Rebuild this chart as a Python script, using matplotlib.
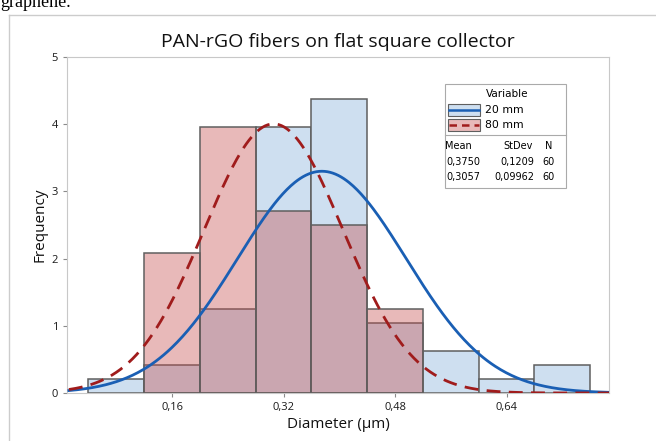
import numpy as np
import matplotlib
matplotlib.use('Agg')
import matplotlib.pyplot as plt
from matplotlib.patches import Rectangle
from matplotlib.lines import Line2D

# bin edges (µm) and counts
edges = [0.04, 0.12, 0.20, 0.28, 0.36, 0.44, 0.52, 0.60, 0.68, 0.76]
counts_20 = [1, 2, 6, 19, 21, 5, 3, 1, 2]
counts_80 = [0, 10, 19, 13, 12, 6, 0, 0, 0]

labels = ['20 mm', '80 mm']
means = [0.3750, 0.3057]
stdevs = [0.1209, 0.09962]
mean_txt = ['0,3750', '0,3057']
sd_txt = ['0,1209', '0,09962']
n_obs = [60, 60]

xticks = [0.16, 0.32, 0.48, 0.64]
xtick_labels = ['0,16', '0,32', '0,48', '0,64']
yticks = [0, 1, 2, 3, 4, 5]

blue_fill = '#cedff0'
blue_line = '#1a5fb4'
red_fill = (196/255, 77/255, 77/255, 0.39)
red_line = '#a01c1c'
edge_col = '#5f5f5f'

plt.rcParams['font.family'] = ['Open Sans', 'DejaVu Sans']

fig = plt.figure(figsize=(6.56, 4.41), dpi=100)
ax = fig.add_axes([67/656, 1-393/441, 542/656, 336/441])

width = edges[1] - edges[0]
left = np.array(edges[:-1])
dens20 = np.array(counts_20) / (n_obs[0] * width)
dens80 = np.array(counts_80) / (n_obs[1] * width)

ax.bar(left, dens20, width=width, align='edge', color=blue_fill,
       edgecolor=edge_col, linewidth=1.1, zorder=2)
m = dens80 > 0
ax.bar(left[m], dens80[m], width=width, align='edge', color=red_fill,
       edgecolor=edge_col, linewidth=1.1, zorder=3)

xs = np.linspace(0.012, 0.787, 400)
for mu, sd, col, ls in [(means[0], stdevs[0], blue_line, '-'),
                        (means[1], stdevs[1], red_line, (0, (5, 3)))]:
    pdf = np.exp(-0.5 * ((xs - mu) / sd) ** 2) / (sd * np.sqrt(2 * np.pi))
    ax.plot(xs, pdf, color=col, ls=ls, lw=2, zorder=4)

ax.set_xlim(0.0093, 0.787)
ax.set_ylim(0, 5)
ax.set_xticks(xticks)
ax.set_xticklabels(xtick_labels)
ax.set_yticks(yticks)
for s in ax.spines.values():
    s.set_color('#c8c8c8')
ax.tick_params(colors='#8a8a8a', labelcolor='#1a1a1a', labelsize=8, length=3)
ax.set_xlabel('Diameter (µm)', fontsize=11, color='#111111', labelpad=3)
ax.set_ylabel('Frequency', fontsize=11, color='#111111', labelpad=3)
ax.set_title('PAN-rGO fibers on flat square collector', fontsize=14,
             color='#111111', pad=7)

# legend box, drawn by hand like Minitab's
def px(x, y):
    return x / 656, 1 - y / 441

lfont = 'DejaVu Sans'
lx0, ly0, lx1, ly1 = 445, 84, 566, 188
fig.patches.append(Rectangle(px(lx0, ly1), (lx1-lx0)/656, (ly1-ly0)/441,
                             transform=fig.transFigure, fill=True, fc='white',
                             ec='#aaaaaa', lw=0.8, zorder=5))
fig.lines.append(Line2D([lx0/656, lx1/656], [1-135/441]*2, transform=fig.transFigure,
                        color='#aaaaaa', lw=0.8, zorder=6))
fig.text(*px(507, 94), 'Variable', fontsize=7.5, family=lfont, ha='center', va='center', zorder=7)
for i, (fc, lc, ls) in enumerate([(blue_fill, blue_line, '-'), (red_fill, red_line, (0, (3, 2)))]):
    yc = 110 + i * 15
    fig.patches.append(Rectangle(px(448, yc+6), 32/656, 12/441, transform=fig.transFigure,
                                 fc=fc, ec=edge_col, lw=0.8, zorder=6))
    fig.lines.append(Line2D([449/656, 479/656], [1-yc/441]*2, transform=fig.transFigure,
                            color=lc, ls=ls, lw=1.8, zorder=7))
    fig.text(*px(485, yc), labels[i], fontsize=7.8, family=lfont, va='center', zorder=7)
for x, s, ha in [(458, 'Mean', 'center'), (533, 'StDev', 'right'), (549, 'N', 'center')]:
    fig.text(*px(x, 146), s, fontsize=7, family=lfont, ha=ha, va='center', zorder=7)
for i in range(2):
    yc = 162 + i * 15
    fig.text(*px(446, yc), mean_txt[i], fontsize=7, family=lfont, va='center', zorder=7)
    fig.text(*px(534, yc), sd_txt[i], fontsize=7, family=lfont, ha='right', va='center', zorder=7)
    fig.text(*px(542, yc), str(n_obs[i]), fontsize=7, family=lfont, va='center', zorder=7)

# outer frame of the pasted figure and the document text above it
fig.lines.append(Line2D([9/656, 1], [1-15/441]*2, transform=fig.transFigure, color='#cccccc', lw=1))
fig.lines.append(Line2D([9/656]*2, [0, 1-15/441], transform=fig.transFigure, color='#cccccc', lw=1))
fig.text(0.0, 1.0 + 6/441, 'graphene.', fontsize=13, family='Liberation Serif', va='top')

fig.savefig('out.png', dpi=100)
